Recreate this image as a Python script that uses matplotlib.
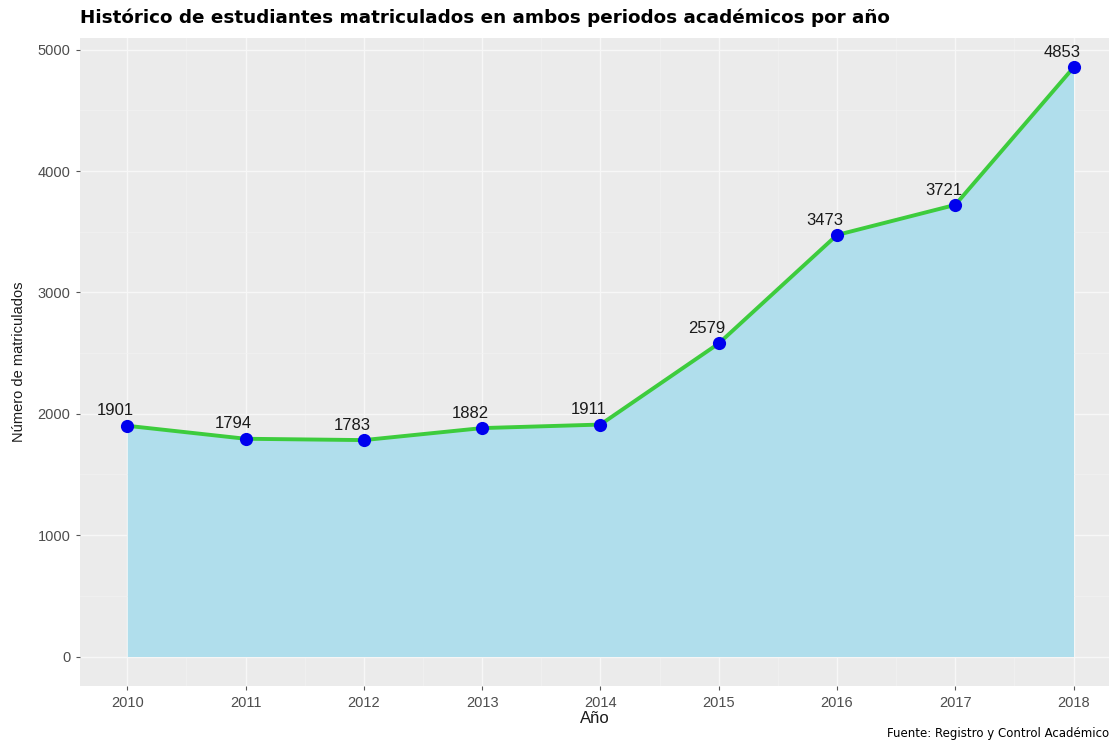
import numpy as np
import matplotlib.pyplot as plt
from matplotlib.ticker import MultipleLocator

plt.rcParams["font.family"] = ["Liberation Sans", "DejaVu Sans"]

# data
years = [2010, 2011, 2012, 2013, 2014, 2015, 2016, 2017, 2018]
enrolled = [1901, 1794, 1783, 1882, 1911, 2579, 3473, 3721, 4853]
yticks = [0, 1000, 2000, 3000, 4000, 5000]

W, H = 1109, 742
fig = plt.figure(figsize=(W / 100, H / 100), dpi=100)
# panel in pixel coords: left 80, right 1109, top 38, bottom 686
ax = fig.add_axes([80 / W, 1 - 686 / H, (W - 80) / W, (686 - 38) / H])

ax.set_facecolor("#EBEBEB")
for s in ax.spines.values():
    s.set_visible(False)

ax.fill_between(years, 0, enrolled, color="#B0DEEC", zorder=2, linewidth=0)
ax.plot(years, enrolled, color="#3DCC3D", lw=2.8, zorder=3)
ax.scatter(years, enrolled, s=90, color="#0000EE", zorder=4, linewidths=0)
for x, y in zip(years, enrolled):
    ax.text(x - 0.1, y + 60, str(y), ha="center", va="bottom",
            fontsize=12, color="#1a1a1a", zorder=5)

ax.set_xlim(2009.6, 2018.3)
ax.set_ylim(-243, 5096)
ax.set_xticks(years)
ax.set_yticks(yticks)
ax.xaxis.set_minor_locator(MultipleLocator(0.5))
ax.yaxis.set_minor_locator(MultipleLocator(500))
ax.grid(which="major", color="#F7F7F7", lw=1.0, zorder=0)
ax.grid(which="minor", color="#F2F2F2", lw=0.5, zorder=0)
ax.set_axisbelow(True)
ax.tick_params(which="major", length=3, color="#555555", labelsize=10.5,
               labelcolor="#4D4D4D", pad=4)
ax.tick_params(which="minor", length=0)

ax.set_xlabel("Año", fontsize=12, color="#1a1a1a", labelpad=1)
ax.set_ylabel("Número de matriculados", fontsize=10.5, color="#1a1a1a",
              labelpad=8)

fig.text(80 / W, 1 - 18 / H, "Histórico de estudiantes matriculados en ambos "
         "periodos académicos por año", fontsize=13.2, fontweight="bold",
         family="DejaVu Sans", ha="left", va="center", color="black")
fig.text(887 / W, 1 - 734 / H, "Fuente: Registro y Control Académico",
         fontsize=8.5, family="DejaVu Sans", ha="left", va="center",
         color="black")

fig.savefig("out.png", dpi=100)
